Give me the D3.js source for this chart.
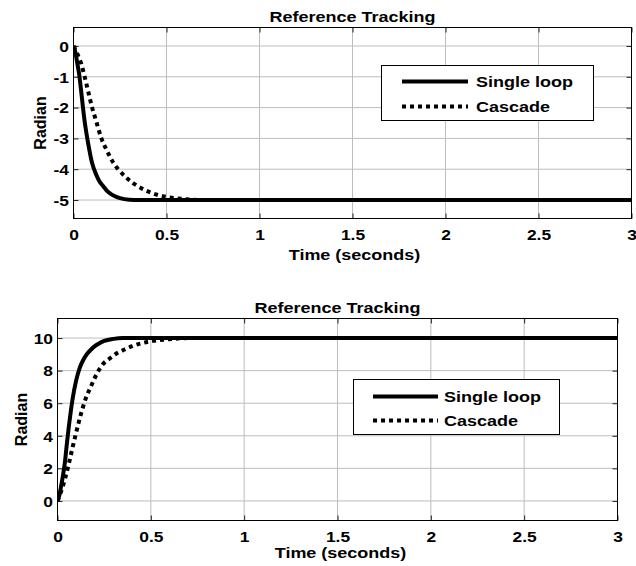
<!DOCTYPE html>
<html><head><meta charset="utf-8">
<script src="https://cdn.jsdelivr.net/npm/d3@7"></script>
<style>
html,body{margin:0;padding:0;background:#fff;}
text{font-family:"Liberation Sans",Arial,sans-serif;font-weight:bold;fill:#000;}
</style></head>
<body>
<svg id="chart" width="636" height="566"></svg>
<script>
// ---- data ----
const xTicks = [0, 0.5, 1, 1.5, 2, 2.5, 3];
const xTickLabels = ["0", "0.5", "1", "1.5", "2", "2.5", "3"];
const yTicksTop = [-5, -4, -3, -2, -1, 0];
const yTickLabelsTop = ["-5", "-4", "-3", "-2", "-1", "0"];
const yTicksBottom = [0, 2, 4, 6, 8, 10];
const yTickLabelsBottom = ["0", "2", "4", "6", "8", "10"];
const seriesNames = ["Single loop", "Cascade"];

const tSingleTop = [0, 0.01, 0.02, 0.03, 0.04, 0.05, 0.06, 0.07, 0.08, 0.1, 0.12, 0.14, 0.16, 0.18, 0.2, 0.22, 0.25, 0.3, 0.35, 0.4, 3];
const ySingleTop = [0, -0.2, -0.55, -0.9, -1.4, -1.95, -2.45, -2.85, -3.2, -3.8, -4.15, -4.4, -4.55, -4.7, -4.8, -4.87, -4.94, -4.99, -5, -5, -5];
const tCascadeTop = [0, 0.02, 0.04, 0.06, 0.08, 0.1, 0.12, 0.15, 0.18, 0.21, 0.24, 0.28, 0.32, 0.36, 0.4, 0.45, 0.5, 0.6, 0.7, 3];
const yCascadeTop = [0, -0.25, -0.55, -1.0, -1.5, -2.0, -2.4, -3.0, -3.4, -3.75, -4.0, -4.25, -4.45, -4.6, -4.72, -4.83, -4.9, -4.97, -5.0, -5.0];

const tSingleBottom = [0, 0.01, 0.02, 0.03, 0.04, 0.05, 0.06, 0.07, 0.08, 0.1, 0.12, 0.14, 0.16, 0.18, 0.2, 0.22, 0.25, 0.3, 0.35, 0.4, 3];
const ySingleBottom = [0, 0.35, 0.95, 1.6, 2.4, 3.5, 4.5, 5.4, 6.2, 7.4, 8.2, 8.7, 9.05, 9.3, 9.5, 9.65, 9.82, 9.95, 10, 10, 10];
const tCascadeBottom = [0, 0.02, 0.04, 0.06, 0.08, 0.1, 0.12, 0.15, 0.18, 0.21, 0.24, 0.28, 0.32, 0.36, 0.4, 0.45, 0.5, 0.6, 0.7, 3];
const yCascadeBottom = [0, 0.6, 1.35, 2.25, 3.25, 4.2, 5.1, 6.25, 7.05, 7.8, 8.35, 8.75, 9.08, 9.3, 9.5, 9.68, 9.8, 9.93, 10, 10];

// ---- drawing ----
const svg = d3.select("#chart");
const SX = 1.2; // horizontal text stretch

function stretchedText(g, x, y, str, size, anchor) {
  return g.append("text")
    .attr("transform", `translate(${x},${y}) scale(${SX},1)`)
    .attr("text-anchor", anchor || "middle")
    .style("font-size", size + "px")
    .text(str);
}

function panel(cfg) {
  const {left, top, right, bottom, yDomain, yTicks, yTickLabels, series, legend, id} = cfg;
  const W = right - left, H = bottom - top;
  const g = svg.append("g").attr("transform", `translate(${left},${top})`);
  const x = d3.scaleLinear().domain([0, 3]).range([0, W]);
  const y = d3.scaleLinear().domain(yDomain).range([H, 0]);

  // grid
  g.append("g").selectAll("line").data(xTicks).join("line")
    .attr("x1", d => x(d)).attr("x2", d => x(d)).attr("y1", 0).attr("y2", H)
    .attr("stroke", "#bdbdbd").attr("stroke-width", 1);
  g.append("g").selectAll("line").data(yTicks).join("line")
    .attr("x1", 0).attr("x2", W).attr("y1", d => y(d)).attr("y2", d => y(d))
    .attr("stroke", "#bdbdbd").attr("stroke-width", 1);

  // inward ticks on all sides
  const ax = g.append("g").attr("transform", `translate(0,${H})`)
    .call(d3.axisBottom(x).tickValues(xTicks).tickSize(-5).tickFormat((d, i) => xTickLabels[i]));
  const axTop = g.append("g").call(d3.axisTop(x).tickValues(xTicks).tickSize(-5).tickFormat(""));
  const ay = g.append("g").call(d3.axisLeft(y).tickValues(yTicks).tickSize(-5).tickFormat((d, i) => yTickLabels[i]));
  const ayR = g.append("g").attr("transform", `translate(${W},0)`)
    .call(d3.axisRight(y).tickValues(yTicks).tickSize(-5).tickFormat(""));
  [ax, axTop, ay, ayR].forEach(a => {
    a.select(".domain").remove();
    a.selectAll(".tick line").attr("stroke", "#222");
  });
  ax.selectAll(".tick text")
    .attr("y", null).attr("dy", null)
    .attr("transform", `translate(0,21) scale(${SX},1)`)
    .style("font-size", "14.5px").attr("fill", "#000");
  ay.selectAll(".tick text")
    .attr("x", null).attr("dy", "0.36em")
    .attr("transform", `translate(-4.5,0) scale(${SX},1)`)
    .style("font-size", "14.5px").attr("fill", "#000");
  g.selectAll(".tick text").style("font-family", '"Liberation Sans",Arial,sans-serif').style("font-weight", "bold");

  // clip
  svg.append("clipPath").attr("id", id).append("rect")
    .attr("x", 0).attr("y", 0).attr("width", W).attr("height", H);

  const line = d3.line().x(d => x(d[0])).y(d => y(d[1])).curve(d3.curveMonotoneX);
  const plot = g.append("g").attr("clip-path", `url(#${id})`);
  series.forEach(s => {
    const pts = s.t.map((t, i) => [t, s.v[i]]);
    plot.append("path").datum(pts).attr("d", line)
      .attr("fill", "none").attr("stroke", "#000").attr("stroke-width", 4)
      .attr("stroke-linejoin", "round")
      .attr("stroke-dasharray", s.dash || null);
  });

  // box
  g.append("rect").attr("x", 0).attr("y", 0).attr("width", W).attr("height", H)
    .attr("fill", "none").attr("stroke", "#000").attr("stroke-width", 1);

  // title & labels
  stretchedText(g, W / 2, cfg.titleY - top, "Reference Tracking", 15);
  stretchedText(g, W / 2 + cfg.xlabDx, cfg.xlabY - top, "Time (seconds)", 15);
  g.append("text")
    .attr("transform", `translate(${cfg.ylabX - left},${H / 2}) rotate(-90)`)
    .attr("text-anchor", "middle").style("font-size", "16px").text("Radian");

  // legend
  const L = legend;
  const lg = svg.append("g");
  lg.append("rect").attr("x", L.x0).attr("y", L.y0).attr("width", L.x1 - L.x0).attr("height", L.y1 - L.y0)
    .attr("fill", "#fff").attr("stroke", "#000").attr("stroke-width", 1);
  series.forEach((s, i) => {
    const yy = L.lineY[i];
    lg.append("line").attr("x1", L.lx0).attr("x2", L.lx1).attr("y1", yy).attr("y2", yy)
      .attr("stroke", "#000").attr("stroke-width", 4).attr("stroke-dasharray", s.dash || null);
    stretchedText(lg, L.tx, yy + 5.5, seriesNames[i], 15, "start");
  });
}

panel({
  id: "clipTop", left: 73.5, top: 27.5, right: 631.5, bottom: 218.5,
  yDomain: [-5.6, 0.6], yTicks: yTicksTop, yTickLabels: yTickLabelsTop,
  series: [{t: tSingleTop, v: ySingleTop}, {t: tCascadeTop, v: yCascadeTop, dash: "4,4"}],
  titleY: 21.5, xlabY: 260, xlabDx: 2, ylabX: 46,
  legend: {x0: 381.5, y0: 65.5, x1: 593.5, y1: 120.5, lx0: 402, lx1: 468, tx: 476, lineY: [81.5, 106.5]}
});
panel({
  id: "clipBottom", left: 57.5, top: 318.5, right: 617.5, bottom: 520.5,
  yDomain: [-1.2, 11.2], yTicks: yTicksBottom, yTickLabels: yTickLabelsBottom,
  series: [{t: tSingleBottom, v: ySingleBottom}, {t: tCascadeBottom, v: yCascadeBottom, dash: "4,4"}],
  titleY: 313, xlabY: 558, xlabDx: 3, ylabX: 27,
  legend: {x0: 353.5, y0: 379.5, x1: 559.5, y1: 434.5, lx0: 373, lx1: 438, tx: 444, lineY: [396.5, 420.5]}
});
</script>
</body></html>
